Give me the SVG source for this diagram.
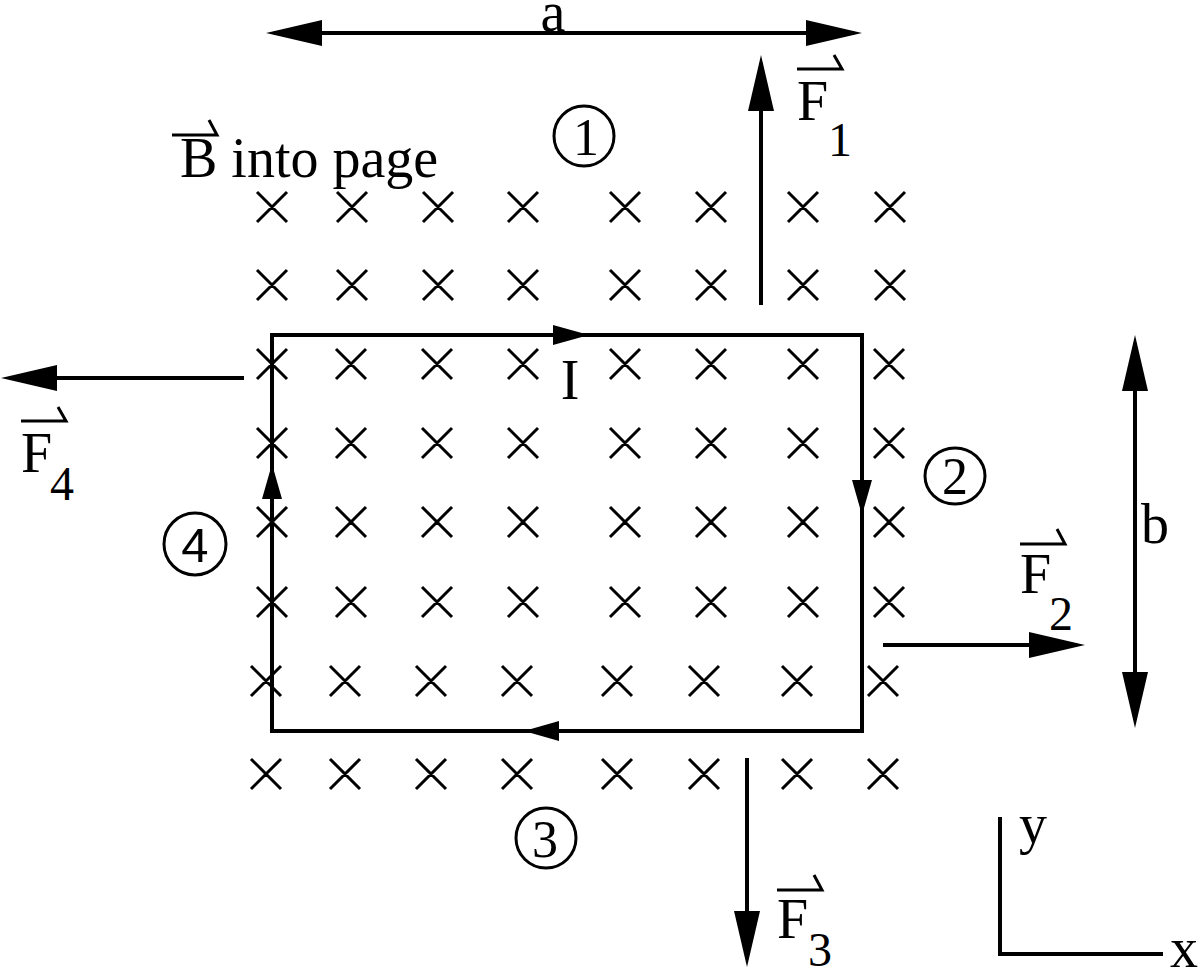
<svg xmlns="http://www.w3.org/2000/svg" width="1199" height="969" viewBox="0 0 1199 969">
<style>
.ln{stroke:#000;stroke-width:4;fill:none}
.ar{stroke:#000;stroke-width:4;fill:none;marker-end:url(#big)}
.dar{stroke:#000;stroke-width:4;fill:none;marker-end:url(#big);marker-start:url(#big)}
.hd{fill:#000;stroke:none}
.vec{stroke:#000;stroke-width:3;fill:none}
.cr{stroke:#000;stroke-width:3;fill:none}
.t{font-family:'Liberation Serif';font-size:56px;fill:#000}
.s{font-family:'Liberation Serif';font-size:48px;fill:#000}
.cn{font-family:'Liberation Serif';font-size:52px;fill:#000;text-anchor:middle}
.cs{font-family:'Liberation Sans';font-size:49px;fill:#000;text-anchor:middle}
.circ{stroke:#000;stroke-width:3;fill:none}
</style>
<defs>
<marker id="big" markerUnits="userSpaceOnUse" markerWidth="56" markerHeight="28" viewBox="0 0 56 28" refX="48" refY="14" orient="auto-start-reverse">
<path d="M0,1 L56,14 L0,27 Z" fill="#000"/>
</marker>
</defs>

<g id="field">
<path class="cr" d="M257,192l30,30m-30,0l30,-30 M337,192l30,30m-30,0l30,-30 M423,192l30,30m-30,0l30,-30 M508,192l30,30m-30,0l30,-30 M610,192l30,30m-30,0l30,-30 M696,192l30,30m-30,0l30,-30 M788,192l30,30m-30,0l30,-30 M875,192l30,30m-30,0l30,-30
M257,270l30,30m-30,0l30,-30 M337,270l30,30m-30,0l30,-30 M423,270l30,30m-30,0l30,-30 M508,270l30,30m-30,0l30,-30 M610,270l30,30m-30,0l30,-30 M696,270l30,30m-30,0l30,-30 M788,270l30,30m-30,0l30,-30 M875,270l30,30m-30,0l30,-30
M257,349l30,30m-30,0l30,-30 M336,349l30,30m-30,0l30,-30 M422,349l30,30m-30,0l30,-30 M508,349l30,30m-30,0l30,-30 M610,349l30,30m-30,0l30,-30 M696,349l30,30m-30,0l30,-30 M788,349l30,30m-30,0l30,-30 M874,349l30,30m-30,0l30,-30
M257,428l30,30m-30,0l30,-30 M336,428l30,30m-30,0l30,-30 M422,428l30,30m-30,0l30,-30 M508,428l30,30m-30,0l30,-30 M610,428l30,30m-30,0l30,-30 M696,428l30,30m-30,0l30,-30 M788,428l30,30m-30,0l30,-30 M874,428l30,30m-30,0l30,-30
M257,507l30,30m-30,0l30,-30 M336,507l30,30m-30,0l30,-30 M422,507l30,30m-30,0l30,-30 M508,507l30,30m-30,0l30,-30 M610,507l30,30m-30,0l30,-30 M696,507l30,30m-30,0l30,-30 M788,507l30,30m-30,0l30,-30 M874,507l30,30m-30,0l30,-30
M257,587l30,30m-30,0l30,-30 M336,587l30,30m-30,0l30,-30 M422,587l30,30m-30,0l30,-30 M508,587l30,30m-30,0l30,-30 M610,587l30,30m-30,0l30,-30 M696,587l30,30m-30,0l30,-30 M788,587l30,30m-30,0l30,-30 M874,587l30,30m-30,0l30,-30
M251,666l30,30m-30,0l30,-30 M330,666l30,30m-30,0l30,-30 M416,666l30,30m-30,0l30,-30 M502,666l30,30m-30,0l30,-30 M602,666l30,30m-30,0l30,-30 M689,666l30,30m-30,0l30,-30 M782,666l30,30m-30,0l30,-30 M868,666l30,30m-30,0l30,-30
M251,759l30,30m-30,0l30,-30 M330,759l30,30m-30,0l30,-30 M416,759l30,30m-30,0l30,-30 M502,759l30,30m-30,0l30,-30 M602,759l30,30m-30,0l30,-30 M689,759l30,30m-30,0l30,-30 M782,759l30,30m-30,0l30,-30 M868,759l30,30m-30,0l30,-30"/>
</g>

<g id="loop">
<rect class="ln" x="272" y="335" width="590" height="396"/>
<path class="hd" d="M553,325 L589,335 L553,345 Z"/>
<path class="hd" d="M852,480 L862,515 L872,480 Z"/>
<path class="hd" d="M559,721 L524,731 L559,741 Z"/>
<path class="hd" d="M262,499 L272,464 L282,499 Z"/>
<text class="t" x="570" y="399" text-anchor="middle">I</text>
</g>

<g id="connectors">
<path class="dar" d="M274,33 L854,33"/>
<path class="ar" d="M761,305 L761,63"/>
<path class="ar" d="M244,378 L9,378"/>
<path class="ar" d="M883,645 L1077,645"/>
<path class="ar" d="M747,758 L747,959"/>
<path class="dar" d="M1135,343 L1135,720"/>
</g>

<g id="label-a"><text class="t" x="553" y="31" text-anchor="middle">a</text></g>
<g id="label-b"><text class="t" x="1141" y="543">b</text></g>

<g id="label-B">
<path class="vec" d="M172,135 L217,135 L209,120"/>
<text class="t" x="180" y="177">B into page</text>
</g>

<g id="label-F1">
<path class="vec" d="M797,69 L842,69 L834,55"/>
<text class="t" x="797" y="120">F</text><text class="s" x="828" y="156">1</text>
</g>
<g id="label-F2">
<path class="vec" d="M1020,544 L1065,544 L1057,529"/>
<text class="t" x="1020" y="593">F</text><text class="s" x="1049" y="630">2</text>
</g>
<g id="label-F3">
<path class="vec" d="M777,890 L822,890 L814,875"/>
<text class="t" x="777" y="938">F</text><text class="s" x="808" y="966">3</text>
</g>
<g id="label-F4">
<path class="vec" d="M21,421 L66,421 L58,407"/>
<text class="t" x="21" y="472">F</text><text class="s" x="50" y="500">4</text>
</g>

<g id="side-1"><circle class="circ" cx="584" cy="136" r="30"/><text class="cn" x="586" y="155">1</text></g>
<g id="side-2"><ellipse class="circ" cx="955" cy="476" rx="30" ry="28"/><text class="cn" x="955" y="494">2</text></g>
<g id="side-3"><circle class="circ" cx="546" cy="838" r="30"/><text class="cn" x="545" y="857">3</text></g>
<g id="side-4"><circle class="circ" cx="195" cy="544" r="31"/><text class="cs" x="195" y="562">4</text></g>

<g id="axes">
<path class="ln" d="M1000,817 L1000,954 L1163,954"/>
<text class="t" x="1019" y="843">y</text>
<text class="t" x="1170" y="967">x</text>
</g>
</svg>
